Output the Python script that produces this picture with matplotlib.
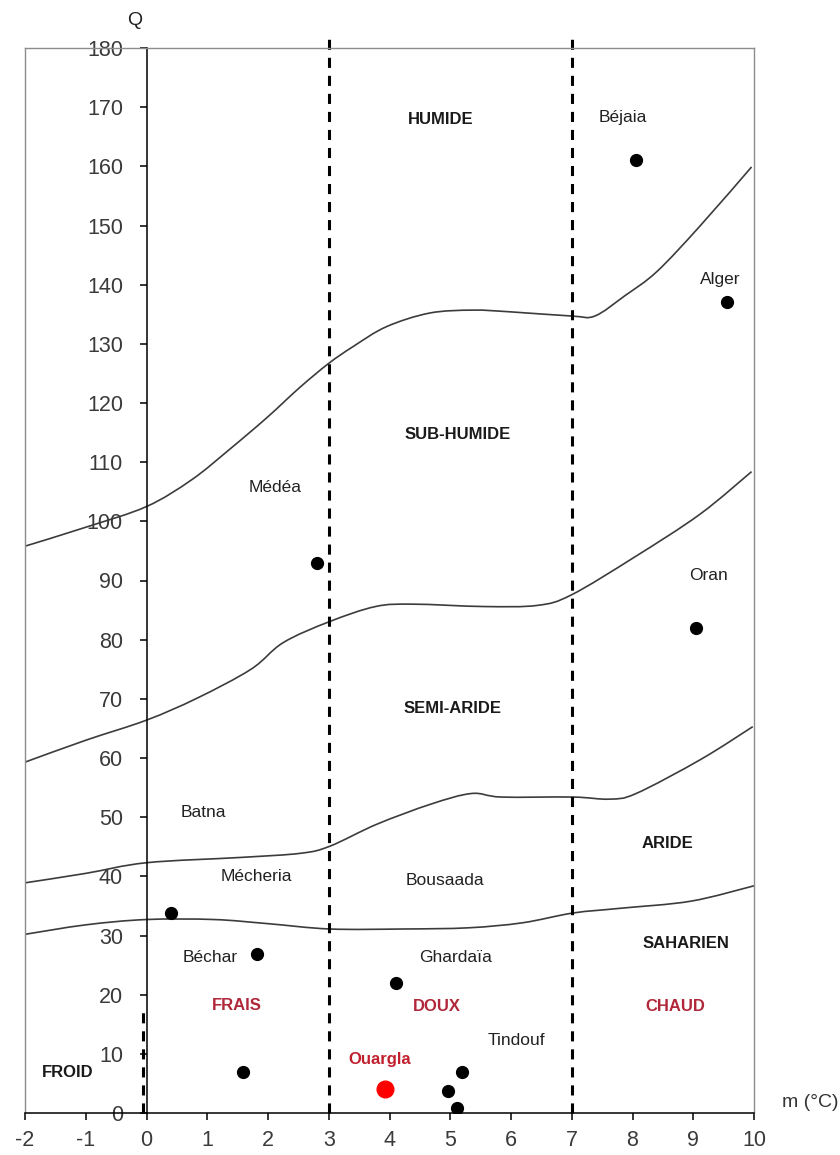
import numpy as np
import matplotlib.pyplot as plt
from matplotlib.path import Path
from matplotlib.patches import PathPatch

plt.rcParams['font.family'] = ['Liberation Sans', 'DejaVu Sans']
plt.rcParams['axes.unicode_minus'] = False

# limit curves (m, Q)
humide_m = [-2, -1, 0, 0.74, 1.36, 1.99, 2.52, 3.0, 3.41, 3.95, 4.66, 5.37, 6.0, 7.0, 7.38, 7.87, 8.4, 9.11, 9.96]
humide_q = [95.8, 99.0, 102.5, 107.0, 112.1, 117.6, 122.6, 126.7, 129.6, 132.9, 135.2, 135.7, 135.4, 134.7, 134.7, 138.1, 142.2, 149.9, 159.9]

subhum_m = [-2, -1, 0, 0.83, 1.72, 2.25, 3.0, 3.77, 4.39, 5.55, 6.44, 7.0, 8.04, 9.11, 9.96]
subhum_q = [59.3, 63.0, 66.4, 70.1, 75.0, 79.5, 83.0, 85.6, 86.0, 85.6, 85.8, 87.6, 94.0, 101.2, 108.4]

semi_m = [-2, -1, 0, 1.56, 2.54, 3.02, 3.79, 4.68, 5.35, 5.84, 7.02, 7.62, 8.06, 9.13, 9.98]
semi_q = [38.9, 40.5, 42.3, 43.2, 43.9, 45.1, 48.8, 52.2, 54.0, 53.4, 53.4, 53.05, 54.0, 59.8, 65.3]

arid_m = [-2, -1, 0, 1.11, 2.0, 3.02, 4.23, 5.3, 6.19, 7.02, 7.8, 8.96, 10.0]
arid_q = [30.2, 31.8, 32.7, 32.7, 32.0, 31.1, 31.1, 31.3, 32.15, 33.8, 34.6, 35.8, 38.4]

# stations
st_m = [8.05, 9.55, 2.8, 9.05, 0.4, 1.82, 4.11, 1.59, 5.2, 4.96, 5.11]
st_q = [161, 137, 93, 82, 33.8, 26.9, 21.9, 7.0, 6.9, 3.8, 0.85]
ouargla = (3.92, 4.1)

city_names = ['Béjaia', 'Alger', 'Médéa', 'Oran', 'Batna', 'Mécheria', 'Bousaada', 'Béchar', 'Ghardaïa', 'Tindouf']
city_xy = [(7.84, 168.3), (9.45, 140.8), (2.12, 105.7), (9.25, 90.8), (0.94, 50.8),
           (1.81, 40.0), (4.91, 39.3), (1.05, 26.2), (5.09, 26.2), (6.09, 12.2)]

zone_names = ['HUMIDE', 'SUB-HUMIDE', 'SEMI-ARIDE', 'ARIDE', 'SAHARIEN']
zone_xy = [(4.85, 168.0), (5.12, 114.7), (5.04, 68.4), (8.57, 45.5), (8.88, 28.6)]

winter_names = ['FROID', 'FRAIS', 'DOUX', 'CHAUD']
winter_xy = [(-1.29, 6.8), (1.49, 18.1), (4.78, 18.0), (8.7, 18.0)]


def smooth_line(ax, xs, ys, **kw):
    # smoothed line through the points (Catmull-Rom drawn as cubic Bezier)
    p = np.column_stack([xs, ys]).astype(float)
    verts = [p[0]]
    codes = [Path.MOVETO]
    for i in range(len(p) - 1):
        p0 = p[i - 1] if i > 0 else p[i]
        p3 = p[i + 2] if i + 2 < len(p) else p[i + 1]
        c1 = p[i] + (p[i + 1] - p0) / 6
        c2 = p[i + 1] - (p3 - p[i]) / 6
        verts += [c1, c2, p[i + 1]]
        codes += [Path.CURVE4] * 3
    ax.add_patch(PathPatch(Path(verts, codes), fill=False, **kw))


fig = plt.figure(figsize=(8.4, 11.55), dpi=100)
ax = fig.add_axes([25 / 840, 42 / 1155, 729 / 840, 1065 / 1155])
ax.set_xlim(-2, 10)
ax.set_ylim(0, 180)

frame = '#8c8c8c'
ax.spines['left'].set_position(('data', 0))
ax.spines['left'].set_color('black')
ax.spines['left'].set_linewidth(1.1)
ax.spines['bottom'].set_color('black')
ax.spines['bottom'].set_linewidth(1.1)
for s in ['top', 'right']:
    ax.spines[s].set_color(frame)
    ax.spines[s].set_linewidth(1.0)
ax.axvline(-2, color=frame, lw=1.0, clip_on=False)

ax.set_xticks(range(-2, 11))
ax.set_yticks(range(0, 181, 10))
ax.tick_params(axis='both', direction='out', length=5, width=1.1,
               labelsize=15.5, labelcolor='#3a3a3a')
ax.tick_params(axis='y', pad=12)
ax.tick_params(axis='x', pad=7)

curve_kw = dict(edgecolor='#3c3c3c', lw=1.2)
smooth_line(ax, humide_m, humide_q, **curve_kw)
smooth_line(ax, subhum_m, subhum_q, **curve_kw)
smooth_line(ax, semi_m, semi_q, **curve_kw)
smooth_line(ax, arid_m, arid_q, **curve_kw)

dash_kw = dict(color='black', lw=2.2, dashes=(3.3, 2.6), clip_on=False)
ax.plot([3, 3], [0, 181.5], **dash_kw)
ax.plot([7, 7], [0, 181.5], **dash_kw)
ax.plot([-0.05, -0.05], [0, 18], **dash_kw)

ax.plot(st_m, st_q, 'o', color='black', ms=8.5, zorder=5)
ax.plot(*ouargla, 'o', color='#ff0000', ms=12, zorder=5)

for name, (x, y) in zip(city_names, city_xy):
    ax.text(x, y, name, fontsize=12.5, ha='center', va='center', color='#222222')

for name, (x, y) in zip(zone_names, zone_xy):
    ax.text(x, y, name, fontsize=12, fontweight='bold', ha='center', va='center', color='#1a1a1a')

winter_colors = ['#1a1a1a', '#b0283a', '#b0283a', '#b0283a']
for name, (x, y), c in zip(winter_names, winter_xy, winter_colors):
    ax.text(x, y, name, fontsize=12, fontweight='bold', ha='center', va='center', color=c)

ax.text(3.84, 9.1, 'Ouargla', fontsize=12, fontweight='bold', ha='center', va='center', color='#c0202e')

ax.text(-0.19, 184.7, 'Q', fontsize=14, ha='center', va='center', color='#222222', clip_on=False)
ax.text(10.92, 1.7, 'm (°C)', fontsize=14, ha='center', va='center', color='#333333', clip_on=False)

fig.savefig('out.png', dpi=100)
